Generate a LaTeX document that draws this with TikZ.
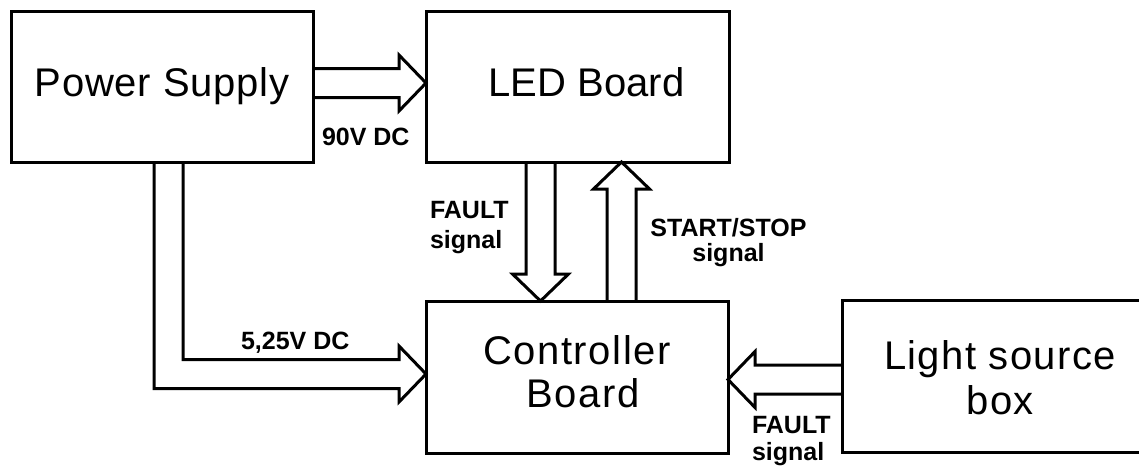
\documentclass[tikz,border=0pt]{standalone}
\usepackage{fontspec}
\setmainfont{Liberation Sans}
\newfontfamily\spA[LetterSpace=2]{Liberation Sans}
\newfontfamily\spB[LetterSpace=3.5]{Liberation Sans}
\newfontfamily\spC[LetterSpace=4]{Liberation Sans}
\usetikzlibrary{calc}
\begin{document}
\begin{tikzpicture}[x=1pt,y=-1pt,
  box/.style={draw, line width=3pt, rectangle, inner sep=0pt, outer sep=0pt,
    font=\fontsize{40}{43}\selectfont, align=center},
  onebox/.style={box, text height=28.6pt, text depth=8.4pt},
  lbl/.style={inner sep=0pt, outer sep=0pt, font=\fontsize{25}{27}\selectfont\bfseries},
  barrow/.style={draw, line width=3pt, line join=miter}]
\useasboundingbox (0,0) rectangle (1139,466);

% boxes
\node[onebox, minimum width=302pt, minimum height=151pt, font=\spA\fontsize{40}{43}\selectfont] (ps) at (162,86.5) {Power Supply};
\node[onebox, minimum width=303pt, minimum height=151pt] (led) at (577.5,86.5) {\hspace*{18pt}LED Board};
\node[box, minimum width=302pt, minimum height=152pt, font=\spC\fontsize{40}{43}\selectfont] (ctrl) at (577,377)
  {Controller\\\hspace*{12pt}Board\rule[-11.6pt]{0pt}{11.6pt}};
\node[box, minimum width=316pt, minimum height=152pt, font=\spB\fontsize{40}{45}\selectfont] (light) at (1000,376)
  {\rule{0pt}{33pt}Light source\\box};

% connector end points
\coordinate (s1) at (ps.east |- 0,83);
\coordinate (t1) at (led.west |- 0,83);
\coordinate (s2) at (led.south -| 540.5,0);
\coordinate (t2) at (ctrl.north -| 540.5,0);
\coordinate (s3) at (ctrl.north -| 621.5,0);
\coordinate (t3) at (led.south -| 621.5,0);
\coordinate (s4) at (ps.south -| 168.5,0);
\coordinate (t4) at (ctrl.west |- 0,374);
\coordinate (c4) at (s4 |- t4);
\coordinate (s5) at (light.west |- 0,379.5);
\coordinate (t5) at (ctrl.east |- 0,379.5);

% Power Supply -> LED Board
\draw[barrow] ($(s1)+(0,-14.5)$) -- ($(t1)+(-27,-14.5)$) -- ($(t1)+(-27,-28)$) -- (t1)
  -- ($(t1)+(-27,28)$) -- ($(t1)+(-27,14.5)$) -- ($(s1)+(0,14.5)$);
% LED Board -> Controller (FAULT)
\draw[barrow] ($(s2)+(-14.5,0)$) -- ($(t2)+(-14.5,-27)$) -- ($(t2)+(-28,-27)$) -- (t2)
  -- ($(t2)+(28,-27)$) -- ($(t2)+(14.5,-27)$) -- ($(s2)+(14.5,0)$);
% Controller -> LED Board (START/STOP)
\draw[barrow] ($(s3)+(-14.5,0)$) -- ($(t3)+(-14.5,27)$) -- ($(t3)+(-28,27)$) -- (t3)
  -- ($(t3)+(28,27)$) -- ($(t3)+(14.5,27)$) -- ($(s3)+(14.5,0)$);
% Power Supply -> Controller (5,25V DC)
\draw[barrow] ($(s4)+(-14.5,0)$) -- ($(c4)+(-14.5,14.5)$) -- ($(t4)+(-27,14.5)$) -- ($(t4)+(-27,28)$)
  -- (t4) -- ($(t4)+(-27,-28)$) -- ($(t4)+(-27,-14.5)$) -- ($(c4)+(14.5,-14.5)$) -- ($(s4)+(14.5,0)$);
% Light source box -> Controller (FAULT)
\draw[barrow] ($(s5)+(0,-14.5)$) -- ($(t5)+(27,-14.5)$) -- ($(t5)+(27,-28)$) -- (t5)
  -- ($(t5)+(27,28)$) -- ($(t5)+(27,14.5)$) -- ($(s5)+(0,14.5)$);

% labels
\node[lbl, anchor=base west] (l90) at (322,145) {90V DC};
\node[lbl, anchor=base west] (l525) at (241,349) {5,25V DC};
\node[lbl, anchor=north west, align=left, font=\fontsize{25}{30}\selectfont\bfseries] (lfault1) at (430,201.5) {FAULT\\signal};
\node[lbl, anchor=north, align=center, font=\fontsize{25}{25}\selectfont\bfseries] (lss) at (728.5,218) {START/STOP\\signal};
\node[lbl, anchor=north west, align=left] (lfault2) at (752,416) {FAULT\\signal};
\end{tikzpicture}
\end{document}
